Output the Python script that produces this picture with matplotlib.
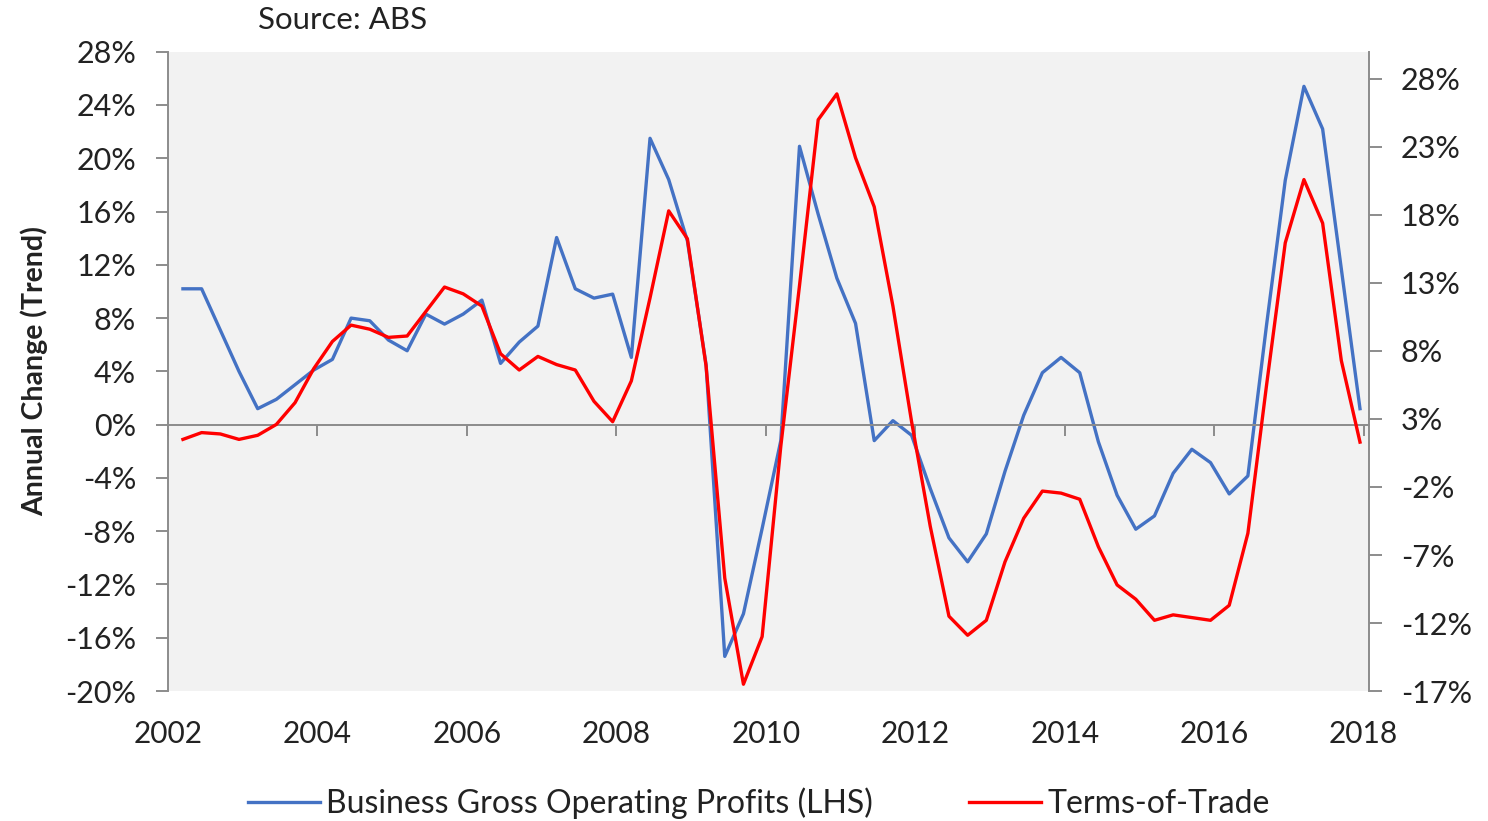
import matplotlib.pyplot as plt
import numpy as np
from matplotlib.ticker import FuncFormatter

plt.rcParams['font.family'] = ['Lato', 'DejaVu Sans']

# quarterly annual changes, Mar-2002 .. Dec-2017 (%)
profits = [10.2, 10.2, 7.1, 4.0, 1.2, 1.9, 3.0, 4.1, 4.9, 8.0,
           7.8, 6.35, 5.55, 8.3, 7.55, 8.3, 9.35, 4.6, 6.2, 7.4,
           14.05, 10.2, 9.5, 9.8, 5.05, 21.5, 18.4, 13.8, 4.5, -17.4,
           -14.2, -7.8, -1.2, 20.9, 15.8, 11.0, 7.6, -1.2, 0.3, -0.8,
           -4.8, -8.5, -10.3, -8.2, -3.5, 0.7, 3.9, 5.05, 3.9, -1.3,
           -5.3, -7.85, -6.85, -3.65, -1.85, -2.85, -5.2, -3.85, 7.5, 18.35,
           25.4, 22.2, 11.7, 1.2]
terms_of_trade = [1.5, 2.0, 1.9, 1.5, 1.8, 2.6, 4.2, 6.7, 8.7, 9.9,
                  9.6, 9.0, 9.1, 10.9, 12.7, 12.2, 11.3, 7.8, 6.6, 7.6,
                  7.0, 6.6, 4.3, 2.8, 5.8, 11.9, 18.3, 16.25, 6.9, -8.7,
                  -16.5, -13.0, 1.0, 12.8, 25.0, 26.9, 22.2, 18.6, 11.3, 2.8,
                  -4.9, -11.5, -12.9, -11.8, -7.5, -4.3, -2.3, -2.45, -2.9, -6.4,
                  -9.2, -10.25, -11.8, -11.4, -11.6, -11.8, -10.7, -5.4, 5.5, 15.95,
                  20.6, 17.4, 7.3, 1.3]
year_ticks = list(range(2002, 2019, 2))
left_ticks = list(range(-20, 29, 4))
right_ticks = list(range(-17, 29, 5))

x = 2002.2 + 0.25 * np.arange(len(profits))

gray = '#8c8c8c'
txt = '#222222'
pct = FuncFormatter(lambda v, p: f'{v:.0f}%')

fig = plt.figure(figsize=(14.88, 8.21), dpi=100)
ax = fig.add_axes([0.1129, 0.1583, 0.8071, 0.7787])
ax.set_facecolor('#f2f2f2')
l1, = ax.plot(x, profits, color='#4472c4', lw=2.4,
              label='Business Gross Operating Profits (LHS)')
ax2 = ax.twinx()
l2, = ax2.plot(x, terms_of_trade, color='#ff0000', lw=2.4, label='Terms-of-Trade')

ax.set_xlim(2002, 2018.07)
ax.set_ylim(-20, 28)
ax.set_yticks(left_ticks)
ax.yaxis.set_major_formatter(pct)
ax2.set_ylim(-17, 30)
ax2.set_yticks(right_ticks)
ax2.yaxis.set_major_formatter(pct)

for s in ['top', 'right']:
    ax.spines[s].set_visible(False)
for s in ['top', 'left', 'bottom']:
    ax2.spines[s].set_visible(False)
ax.spines['bottom'].set_position(('data', 0))
for s in [ax.spines['left'], ax.spines['bottom'], ax2.spines['right']]:
    s.set_color(gray)
    s.set_linewidth(1.4)

ax.set_xticks(year_ticks)
ax.tick_params(axis='x', direction='out', length=8, width=1.4, color=gray, labelbottom=False)
ax.tick_params(axis='y', direction='out', length=9, width=1.4, color=gray,
               labelsize=22, labelcolor=txt, pad=14)
ax2.tick_params(axis='y', direction='out', length=9, width=1.4, color=gray,
                labelsize=22, labelcolor=txt, pad=14)

sec = ax.secondary_xaxis('bottom')
sec.set_xticks(year_ticks)
sec.tick_params(length=0, pad=21, labelsize=21.5, labelcolor=txt)
sec.spines['bottom'].set_visible(False)

ax.set_ylabel('Annual Change (Trend)', fontsize=20.5, fontweight='bold', color=txt)
ax.yaxis.set_label_coords(-0.1, 0.5)

fig.text(343 / 1488, 1 - 20 / 821, 'Source: ABS', fontsize=22.5, color=txt,
         ha='center', va='center')

fig.legend(handles=[l1, l2], loc='center', bbox_to_anchor=(0.51, 0.022), ncol=2,
           frameon=False, handlelength=2.25, handletextpad=0.2, columnspacing=3.0,
           fontsize=23, labelcolor=txt)

fig.savefig('out.png', dpi=100)
